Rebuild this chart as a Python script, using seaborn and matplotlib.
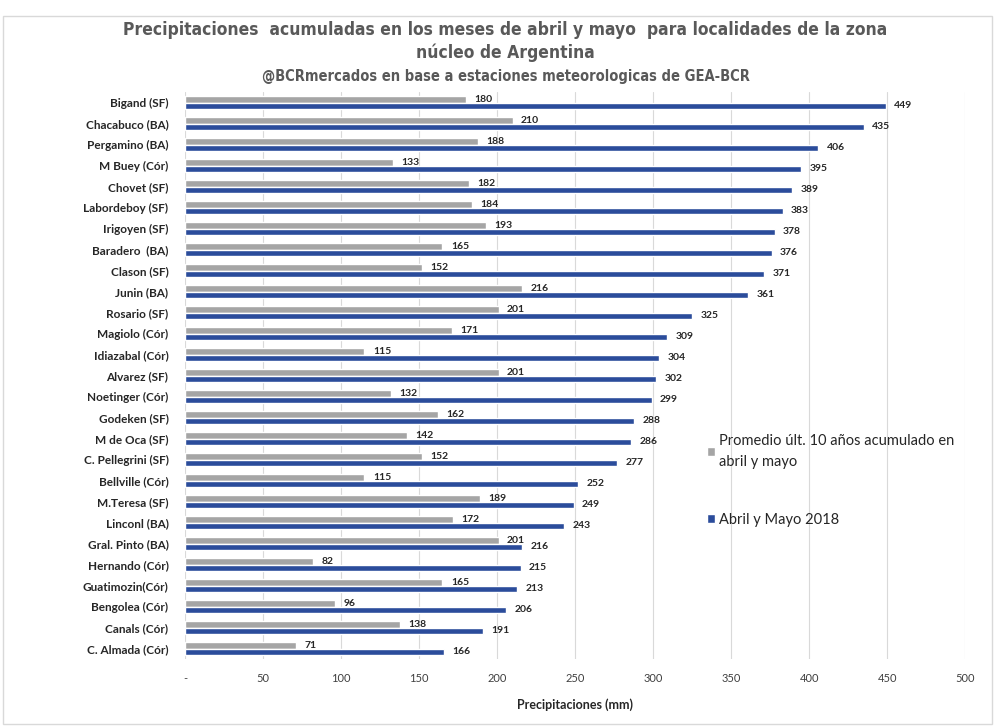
import pandas as pd
import matplotlib.pyplot as plt
import seaborn as sns
from matplotlib import font_manager

# Data
localidades = ["Bigand (SF)", "Chacabuco (BA)", "Pergamino (BA)", "M Buey (Cór)", "Chovet (SF)",
               "Labordeboy (SF)", "Irigoyen (SF)", "Baradero  (BA)", "Clason (SF)", "Junin (BA)",
               "Rosario (SF)", "Magiolo (Cór)", "Idiazabal (Cór)", "Alvarez (SF)", "Noetinger (Cór)",
               "Godeken (SF)", "M de Oca (SF)", "C. Pellegrini (SF)", "Bellville (Cór)", "M.Teresa (SF)",
               "Linconl (BA)", "Gral. Pinto (BA)", "Hernando (Cór)", "Guatimozin(Cór)", "Bengolea (Cór)",
               "Canals (Cór)", "C. Almada (Cór)"]
promedio_10 = [180, 210, 188, 133, 182, 184, 193, 165, 152, 216, 201, 171, 115, 201, 132,
               162, 142, 152, 115, 189, 172, 201, 82, 165, 96, 138, 71]
abril_mayo_2018 = [449, 435, 406, 395, 389, 383, 378, 376, 371, 361, 325, 309, 304, 302, 299,
                   288, 286, 277, 252, 249, 243, 216, 215, 213, 206, 191, 166]
x_ticks = [0, 50, 100, 150, 200, 250, 300, 350, 400, 450, 500]

serie_prom = "Promedio últ. 10 años acumulado en\nabril y mayo"
serie_2018 = "Abril y Mayo 2018"

df = pd.DataFrame({
    "localidad": localidades * 2,
    "mm": promedio_10 + abril_mayo_2018,
    "serie": [serie_prom] * len(localidades) + [serie_2018] * len(localidades),
})

sns.set_style("white")
plt.rcParams["font.family"] = ["Lato", "DejaVu Sans"]

# narrow font for the title if one is installed
fonts = font_manager.fontManager.ttflist
has_cond = any(f.name == "DejaVu Sans" and f.stretch == "condensed" for f in fonts)
has_narrow = any(f.name == "Liberation Sans Narrow" for f in fonts)
if has_narrow:
    title_kw = dict(family="Liberation Sans Narrow", fontsize=14)
    sub_kw = dict(family="Liberation Sans Narrow", fontsize=11)
elif has_cond:
    title_kw = dict(family="DejaVu Sans", fontstretch="condensed", fontsize=12.5)
    sub_kw = dict(family="DejaVu Sans", fontstretch="condensed", fontsize=10.5)
else:
    title_kw = dict(family="Liberation Sans", fontsize=12.5)
    sub_kw = dict(family="Liberation Sans", fontsize=9.5)

gris = "#A5A5A5"
azul = "#2B4C9B"
texto = "#262626"

fig = plt.figure(figsize=(9.95, 7.26), dpi=100)
ax = fig.add_axes([0.186, 0.092, 0.784, 0.781])

sns.barplot(data=df, y="localidad", x="mm", hue="serie", orient="h",
            palette=[gris, azul], width=0.62, ax=ax, saturation=1)

for cont in ax.containers:
    ax.bar_label(cont, fmt="%d", padding=6, fontsize=7.5, color=texto, fontweight="bold")

ax.set_xlim(0, 500)
ax.set_ylim(len(localidades) - 0.5, -0.5)
ax.set_xticks(x_ticks)
ax.set_xticklabels(["-"] + [str(t) for t in x_ticks[1:]], fontsize=8, color="#404040")
ax.tick_params(axis="x", length=0, pad=10)
ax.tick_params(axis="y", length=0, pad=12)
for lbl in ax.get_yticklabels():
    lbl.set_fontsize(8.5)
    lbl.set_fontweight("bold")
    lbl.set_color(texto)
ax.xaxis.grid(True, color="#D9D9D9", linewidth=0.8)
ax.set_axisbelow(True)
for s in ax.spines.values():
    s.set_visible(False)
ax.set_ylabel("")
ax.set_xlabel("Precipitaciones (mm)", fontsize=9, fontweight="bold", color=texto, labelpad=10)

handles, labels = ax.get_legend_handles_labels()
leg = ax.legend(handles, labels, loc="upper left", bbox_to_anchor=(0.652, 0.42), frameon=False,
                fontsize=10.5, handlelength=0.55, handleheight=0.55, handletextpad=0.3,
                labelspacing=3.0, labelcolor=texto)
for t in leg.get_texts():
    t.set_linespacing(1.6)

fig.text(0.508, 0.958, "Precipitaciones  acumuladas en los meses de abril y mayo  para localidades de la zona",
         ha="center", va="center", fontweight="bold", color="#595959", **title_kw)
fig.text(0.508, 0.927, "núcleo de Argentina", ha="center", va="center",
         fontweight="bold", color="#595959", **title_kw)
fig.text(0.508, 0.895, "@BCRmercados en base a estaciones meteorologicas de GEA-BCR", ha="center",
         va="center", fontweight="bold", color="#595959", **sub_kw)

fig.patches.append(plt.Rectangle((0.003, 0.003), 0.994, 0.975, transform=fig.transFigure,
                                 fill=False, edgecolor="#D9D9D9", linewidth=1))

plt.savefig("out.png", dpi=100)
